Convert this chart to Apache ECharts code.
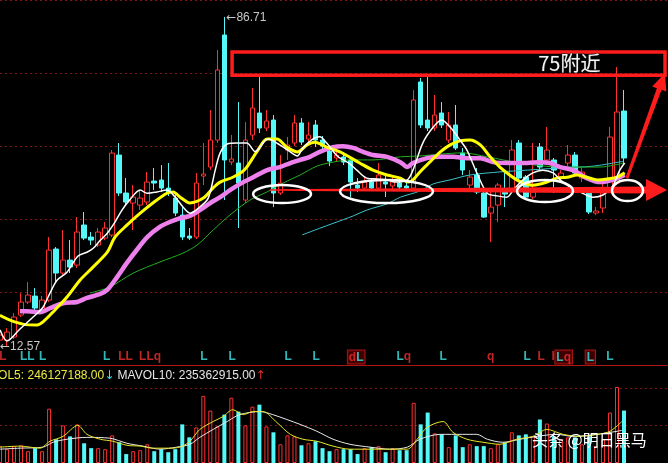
<!DOCTYPE html>
<html><head><meta charset="utf-8">
<script src="https://cdn.jsdelivr.net/npm/echarts@6/dist/echarts.min.js"></script>
<style>html,body{margin:0;padding:0;background:#000;overflow:hidden}#c{width:668px;height:463px}</style>
</head><body><div id="c"></div>
<script>
// ---------- DATA ----------
const candleOpen = [13.90,13.90,14.58,19.54,22.47,23.82,20.22,22.92,34.42,29.01, 31.94,30.81,39.83,37.12,35.32,36.89,37.57,55.60,47.04,44.78, 44.33,45.01,49.74,49.97,48.16,45.91,42.08,37.35,37.12,50.87, 52.90,58.98,82.65,54.03,53.80,45.46,60.11,65.07,61.69,63.49, 47.04,56.73,58.31,62.82,59.21,62.37,58.98,56.50,54.93,55.15, 54.48,48.84,48.16,49.52,48.16,49.52,48.62,49.29,48.62,48.16, 72.06,63.49,61.69,65.07,58.98,62.37,56.05,48.84,51.09,47.04, 42.53,44.33,47.26,47.71,58.31,50.64,46.14,57.41,54.48,54.48, 50.42,53.80,55.60,50.42,47.04,42.53,43.66,47.71,49.29,65.52];
const candleClose = [15.03,15.71,19.09,22.47,24.05,21.12,22.92,34.19,29.01,31.94, 30.36,38.25,36.89,36.44,38.25,39.15,56.05,47.04,45.01,46.14, 45.91,49.52,49.29,48.16,47.26,42.53,37.12,36.89,49.29,51.32, 58.98,74.76,54.48,54.70,49.29,58.98,66.20,61.69,63.27,47.04, 49.29,57.86,62.82,58.53,60.11,58.98,57.63,54.25,55.60,54.03, 49.52,48.16,49.52,48.16,51.09,49.07,49.52,48.39,48.16,68.00, 62.37,61.69,64.62,62.37,62.37,57.18,52.22,50.64,47.26,41.63, 43.88,48.84,46.81,56.73,50.42,46.14,47.26,52.90,56.73,52.22, 51.55,55.60,51.55,51.77,42.76,42.98,47.04,59.66,65.30,54.93];
const candleLow = [13.45,12.57,14.13,19.09,22.02,20.22,19.76,22.47,26.98,28.33, 29.01,30.13,36.44,35.32,34.87,36.44,37.12,46.36,44.33,38.70, 43.21,44.33,47.71,47.26,46.36,41.85,36.44,36.44,36.67,48.84, 52.22,58.31,45.46,53.35,39.15,44.78,58.98,60.56,61.01,43.88, 46.59,54.48,57.63,57.86,58.53,57.41,56.73,53.12,54.25,53.35, 46.14,47.26,47.71,47.49,47.71,46.14,47.94,47.71,47.71,47.71, 61.69,61.01,61.01,61.69,58.31,56.73,51.09,47.71,46.81,41.40, 35.99,40.50,43.88,47.26,49.97,45.46,45.69,52.22,53.80,47.04, 49.97,53.12,50.87,49.52,42.30,42.08,42.53,47.26,48.84,53.35];
const candleHigh = [16.16,16.61,19.99,24.50,26.98,25.63,23.82,37.12,34.87,38.70, 36.44,41.63,42.76,38.25,39.15,40.50,56.73,58.31,50.42,48.84, 47.71,51.77,52.67,53.35,53.80,46.59,43.88,39.15,51.55,58.31, 65.75,79.27,86.71,60.11,67.55,63.04,70.70,73.18,65.75,64.62, 55.60,59.66,64.62,63.94,63.04,63.49,59.89,57.18,56.73,56.28, 54.93,50.42,50.87,50.42,53.80,51.09,51.09,50.42,49.74,70.25, 72.96,73.18,69.13,67.55,65.30,66.87,57.18,52.22,52.67,47.71, 47.71,49.29,51.55,58.98,58.98,51.09,58.31,58.31,61.91,54.93, 52.22,57.86,56.28,52.67,48.16,43.88,49.97,61.91,75.44,70.25];
// volume, millions of shares
const volume = [100,82,100,105,70,88,70,322,141,223, 158,229,117,88,88,82,164,123,53,70, 76,111,70,82,64,82,229,152,211,398, 311,217,287,387,305,223,334,346,217,182, 111,164,158,105,117,129,88,70,82,82, 82,53,88,94,100,64,88,76,76,357, 229,299,176,170,94,164,94,111,100,100, 88,111,123,182,164,170,158,258,234,158, 141,152,152,111,158,100,141,299,451,311];

// moving-average curves: [bar position, price]
const ma5 = [[0,16.2],[1.0,13.7],[2.85,16.4],[5.0,19.5],[6.13,21.3],[7.13,24.5],[8.13,27.4],[9.56,29.2],[11.1,32.8],[12.4,33.7],[13.3,34.6],[14.3,36.4],[15.3,38.0],[16.4,40.5],[17.4,43.2],[18.5,45.5],[20.0,47.7],[21.0,47.0],[22.4,47.3],[23.8,47.7],[25.0,46.1],[26.1,43.9],[27.1,42.5],[28.5,43.9],[29.7,45.9],[30.7,52.2],[31.4,56.1],[32.4,58.1],[33.8,58.3],[35.2,58.3],[36.4,56.4],[38.2,59.2],[39.9,57.9],[41.4,56.3],[42.4,55.4],[43.2,57.2],[44.6,59.2],[45.6,59.7],[46.6,58.3],[48.1,55.4],[49.9,53.6],[50.9,52.2],[52.3,50.4],[53.8,50.2],[55.2,50.0],[56.6,49.5],[58.1,50.0],[58.9,52.2],[60.3,58.3],[61.8,61.9],[63.0,63.5],[64.2,61.9],[65.6,59.0],[66.6,56.7],[68.0,51.6],[69.5,47.0],[70.9,46.4],[72.3,46.1],[73.2,47.7],[74.6,50.0],[76.0,51.6],[77.4,52.2],[78.9,51.6],[79.9,50.0],[81.3,48.4],[82.7,47.3],[84.6,46.1],[86.0,46.6],[87.3,48.4],[88.4,52.2],[89.1,53.8]];
const ma10 = [[0,19.5],[1.43,18.4],[3.28,17.5],[5.28,17.3],[6.13,18.0],[7.85,20.7],[9.56,23.6],[11.4,27.4],[13.3,30.4],[15.3,33.7],[16.4,37.1],[18.1,39.8],[20.0,42.5],[21.8,44.8],[23.8,47.0],[24.7,47.3],[25.7,46.1],[27.1,44.8],[29.0,45.9],[30.4,48.2],[31.4,49.5],[33.2,50.6],[34.5,51.8],[35.2,52.9],[36.7,56.5],[38.1,59.2],[39.5,59.2],[40.9,57.4],[42.4,56.3],[43.8,57.9],[44.9,58.5],[46.6,57.4],[48.5,56.3],[51.3,53.8],[53.2,52.2],[55.2,51.1],[57.1,50.4],[58.2,49.5],[58.9,50.0],[59.9,51.8],[61.3,54.0],[62.8,56.3],[64.2,57.9],[65.6,58.8],[67.0,59.0],[68.5,57.9],[69.9,55.2],[71.3,52.9],[72.7,51.1],[73.7,50.0],[74.6,49.3],[76.0,48.8],[78.0,49.5],[79.4,50.4],[80.9,50.6],[82.3,51.1],[83.7,50.6],[85.2,50.0],[86.6,50.2],[88.0,50.6],[89.1,51.6]];
const ma20 = [[2.85,20.4],[3.85,20.4],[5.7,20.2],[7.13,21.1],[9.0,22.2],[11.0,22.5],[12.4,23.4],[14.3,24.3],[15.3,25.2],[16.7,28.1],[18.1,31.3],[19.5,34.2],[21.0,37.1],[22.8,39.4],[24.2,40.5],[25.7,41.4],[27.1,41.9],[28.5,43.2],[30.0,44.8],[31.4,46.1],[32.8,47.7],[34.7,49.5],[36.1,50.6],[38.1,52.2],[39.9,52.9],[41.4,53.8],[42.8,54.5],[44.2,55.2],[45.6,56.3],[47.5,57.4],[48.9,57.6],[50.4,57.2],[51.8,56.3],[53.2,55.6],[55.2,55.2],[57.1,54.0],[58.1,52.9],[58.9,53.8],[60.9,54.9],[62.8,55.2],[64.6,55.2],[66.6,54.9],[68.5,54.9],[70.3,54.0],[72.7,53.8],[75.2,53.8],[77.0,54.0],[78.4,53.8],[79.9,52.9],[81.7,52.2],[83.7,50.4],[85.6,49.5],[87.4,50.0],[89.1,51.1]];
const ma30 = [[12.8,24.5],[15.7,25.9],[19.0,29.0],[22.8,31.5],[26.1,33.5],[28.1,35.3],[30.4,38.7],[32.8,42.1],[35.7,45.5],[38.1,47.3],[40.4,49.3],[42.8,51.1],[45.2,53.1],[47.5,54.0],[49.9,54.5],[53.2,54.5],[57.1,55.2],[59.9,55.4],[62.8,55.8],[66.0,56.1],[69.5,55.2],[74.2,53.8],[79.9,52.9],[85.6,52.9],[88.9,53.8]];
const ma60 = [[43.1,37.6],[45.6,39.1],[47.5,40.2],[50.4,41.9],[52.3,43.2],[55.2,44.6],[57.1,46.1],[59.9,47.5],[61.8,49.1],[64.2,50.0],[67.0,51.1],[71.3,51.8],[75.2,52.2],[79.9,52.7],[84.6,53.1],[88.9,54.2]];
const mavol5 = [[0,94],[2.85,100],[5.7,88],[7.13,129],[9.0,158],[11.1,223],[12.4,170],[14.3,141],[16.1,129],[18.1,105],[20.0,100],[21.8,88],[24.7,88],[26.0,100],[27.1,129],[28.5,199],[30.4,246],[31.8,275],[33.2,316],[34.7,287],[36.1,305],[37.5,305],[39.5,240],[41.4,170],[43.2,141],[45.2,129],[47.5,100],[49.9,82],[52.8,82],[55.6,82],[58.1,82],[59.5,141],[60.9,211],[63.2,246],[64.6,182],[66.6,141],[68.9,123],[71.3,111],[73.7,141],[76.0,158],[78.0,199],[80.3,170],[82.7,158],[85.2,170],[87.0,188],[88.7,246]];
const mavol10 = [[0,82],[2.85,88],[6.13,94],[7.56,123],[9.56,141],[12.4,152],[15.7,147],[18.1,117],[20.4,100],[22.8,82],[25.2,94],[27.1,111],[28.5,152],[30.4,199],[32.4,246],[34.2,287],[37.1,305],[38.9,287],[40.9,258],[42.8,229],[45.2,188],[47.5,141],[49.9,111],[52.8,94],[55.6,82],[58.1,94],[59.9,141],[62.8,170],[66.0,170],[68.0,170],[69.5,141],[71.7,123],[74.2,141],[76.6,158],[79.4,170],[81.7,158],[85.2,170],[88.0,188],[88.7,193]];

// signal letters under the price panel
const markerX = [0.4,3.9,6.1,15.2,17.9,21.4,29.1,33.1,41.1,45.1,50.8,57.6,63.2,70.0,75.2,77.2,78.9,80.4,84.2,87.0];
const markerTxt = ['{r|L}','{c|LL}','{c|L}','{c|L}','{r|LL}','{r|LLq}','{c|L}','{c|L}','{c|L}','{c|L}','{r|d}{c|L}','{c|L}{r|q}','{c|L}','{r|q}','{c|L}','{r|L}','{r|l}','{c|L}{r|q}','{c|L}','{c|L}'];
const markerBox = [0,0,0,0,0,0,0,0,0,0,1,0,0,0,0,0,0,1,1,0];

const mavol5Text = 'MAVOL5: 246127188.00';
const mavol10Text = 'MAVOL10: 235362915.00';
const highPoint = [32, 86.71];
const lowPoint = [1, 12.57];
const targetText = '75附近';
const watermark = '头条 @明日黑马';

// annotation anchors in [bar position, price]
const boxCorners = [[33.1, 78.8], [94.85, 73.6]];
const noteAt = [81.2, 76.2];
const ellipses = [[36.1,48.84,44.36,44.78],[48.5,49.97,61.76,44.78],[73.74,49.97,81.73,45.01],[87.29,49.97,91.71,45.24]];
const hArrow = [[38.5,47.71],[95.14,47.71]];
const dArrow = [[89.43,50.42],[94.85,74.09]];

// ---------- CHART ----------
const N = candleOpen.length;
const cats = candleOpen.map((_, i) => 'K' + (i + 1));
const UP = '#ff3030', DOWN = '#54f8f8';
const chart = echarts.init(document.getElementById('c'), null, {renderer: 'canvas'});

const hid = {show: false};
const option = {
  backgroundColor: '#000',
  animation: false,
  grid: [
    {left: 0, right: 44, top: 0, height: 365},
    {left: 0, right: 0, top: 0, height: 365},
    {left: 0, right: 44, top: 350, height: 14},
    {left: 0, right: 44, top: 380, height: 84},
    {left: 0, right: 0, top: 388, height: 76}
  ],
  xAxis: [
    {type: 'category', gridIndex: 0, data: cats, boundaryGap: false, show: false},
    {type: 'value', gridIndex: 0, min: 0, max: N - 1, show: false},
    {type: 'value', gridIndex: 1, min: 0, max: 1, position: 'bottom',
      axisLine: {show: true, onZero: false, lineStyle: {color: '#b01616', width: 1}},
      axisTick: hid, axisLabel: hid, splitLine: hid},
    {type: 'value', gridIndex: 2, min: 0, max: N - 1, show: false},
    {type: 'category', gridIndex: 3, data: cats, boundaryGap: false, show: false},
    {type: 'value', gridIndex: 3, min: 0, max: N - 1, show: false},
    {type: 'value', gridIndex: 4, min: 0, max: 1, show: false}
  ],
  yAxis: [
    {type: 'value', gridIndex: 0, min: 8.29, max: 90.54, show: false},
    {type: 'value', gridIndex: 1, min: 0, max: 5, interval: 1,
      axisLine: hid, axisTick: hid, axisLabel: hid,
      splitLine: {show: true, lineStyle: {color: '#7c1616', width: 1, type: [2, 3]}}},
    {type: 'value', gridIndex: 2, min: 0, max: 1, show: false},
    {type: 'value', gridIndex: 3, min: 0, max: 492.2, show: false},
    {type: 'value', gridIndex: 4, min: 0, max: 2, interval: 1,
      axisLine: hid, axisTick: hid, axisLabel: hid,
      splitLine: {show: true, lineStyle: {color: '#7c1616', width: 1, type: [2, 3]}}}
  ],
  series: [
    {type: 'candlestick', xAxisIndex: 0, yAxisIndex: 0, barWidth: 5, z: 2,
      data: candleOpen.map((o, i) => [o, candleClose[i], candleLow[i], candleHigh[i]]),
      itemStyle: {color: '#000', color0: DOWN, borderColor: UP, borderColor0: DOWN, borderWidth: 1}},
    {type: 'line', xAxisIndex: 1, yAxisIndex: 0, data: ma60, symbol: 'none', smooth: 0.3, z: 3,
      lineStyle: {color: '#3cc4cc', width: 1}},
    {type: 'line', xAxisIndex: 1, yAxisIndex: 0, data: ma30, symbol: 'none', smooth: 0.3, z: 3,
      lineStyle: {color: '#22b022', width: 1}},
    {type: 'line', xAxisIndex: 1, yAxisIndex: 0, data: ma20, symbol: 'none', smooth: 0.3, z: 4,
      lineStyle: {color: '#ee80ee', width: 4.5}},
    {type: 'line', xAxisIndex: 1, yAxisIndex: 0, data: ma10, symbol: 'none', smooth: 0.3, z: 5,
      lineStyle: {color: '#ffff00', width: 3}},
    {type: 'line', xAxisIndex: 1, yAxisIndex: 0, data: ma5, symbol: 'none', smooth: 0.3, z: 6,
      lineStyle: {color: '#ffffff', width: 1.5}},
    {type: 'scatter', xAxisIndex: 3, yAxisIndex: 2, symbolSize: 0, silent: true, z: 5,
      data: markerX.map((x, i) => ({
        value: [x, 0.5],
        label: markerBox[i] ? {backgroundColor: '#4a0000', borderColor: '#d01818', borderWidth: 1, padding: [1, 1, 0, 1]} : {}
      })),
      label: {show: true, position: 'inside', formatter: p => markerTxt[p.dataIndex],
        rich: {
          c: {color: '#3ee6e6', fontSize: 12, fontWeight: 'bold', fontFamily: 'Liberation Sans'},
          r: {color: '#f03030', fontSize: 12, fontWeight: 'bold', fontFamily: 'Liberation Sans'}
        }}},
    {type: 'bar', xAxisIndex: 4, yAxisIndex: 3, barWidth: 4, z: 2,
      data: volume.map((v, i) => ({
        value: v,
        itemStyle: candleClose[i] >= candleOpen[i]
          ? {color: '#000', borderColor: UP, borderWidth: 1}
          : {color: DOWN}
      }))},
    {type: 'line', xAxisIndex: 5, yAxisIndex: 3, data: mavol10, symbol: 'none', smooth: 0.3, z: 4,
      lineStyle: {color: '#e8e8e8', width: 1}},
    {type: 'line', xAxisIndex: 5, yAxisIndex: 3, data: mavol5, symbol: 'none', smooth: 0.3, z: 5,
      lineStyle: {color: '#e6e62a', width: 1}}
  ]
};
chart.setOption(option);

// ---------- ANNOTATIONS (placed through the price scales) ----------
function px(p) { return chart.convertToPixel({xAxisIndex: 1, yAxisIndex: 0}, p); }
function arrowPts(S, T, w0, w1, hl, hw) {
  const dx = T[0] - S[0], dy = T[1] - S[1], L = Math.hypot(dx, dy);
  const ux = dx / L, uy = dy / L, nx = -uy, ny = ux;
  const B = [T[0] - ux * hl, T[1] - uy * hl];
  return [[S[0] + nx * w0 / 2, S[1] + ny * w0 / 2], [B[0] + nx * w1 / 2, B[1] + ny * w1 / 2],
    [B[0] + nx * hw / 2, B[1] + ny * hw / 2], T, [B[0] - nx * hw / 2, B[1] - ny * hw / 2],
    [B[0] - nx * w1 / 2, B[1] - ny * w1 / 2], [S[0] - nx * w0 / 2, S[1] - ny * w0 / 2]];
}
const g = [];
const b0 = px(boxCorners[0]), b1 = px(boxCorners[1]);
g.push({type: 'polygon', z: 100, shape: {points: arrowPts(px(hArrow[0]), px(hArrow[1]), 1.5, 7, 21, 22)}, style: {fill: '#ff1c1c'}});
g.push({type: 'polygon', z: 100, shape: {points: arrowPts(px(dArrow[0]), px(dArrow[1]), 3, 5, 17, 15)}, style: {fill: '#ff1c1c'}});
g.push({type: 'rect', z: 101, shape: {x: b0[0], y: b0[1], width: b1[0] - b0[0], height: b1[1] - b0[1]},
  style: {fill: null, stroke: '#ff1c1c', lineWidth: 3.5}});
ellipses.forEach(e => {
  const a = px([e[0], e[1]]), c = px([e[2], e[3]]);
  g.push({type: 'ellipse', z: 102, shape: {cx: (a[0] + c[0]) / 2, cy: (a[1] + c[1]) / 2, rx: (c[0] - a[0]) / 2, ry: (c[1] - a[1]) / 2},
    style: {fill: null, stroke: '#ffffff', lineWidth: 2.5}});
});
const na = px(noteAt);
g.push({type: 'text', z: 103, x: na[0], y: na[1], style: {text: targetText, fill: '#f6f6f6', stroke: '#222', lineWidth: 1,
  font: '20px "Noto Sans CJK SC", sans-serif', align: 'center', verticalAlign: 'middle'}});
const hp = px(highPoint), lp = px(lowPoint);
const labRich = {
  a: {fill: '#c8c8c8', font: '12px "DejaVu Sans", sans-serif'},
  n: {fill: '#c8c8c8', font: '12px "Liberation Sans", Arial, sans-serif'}
};
g.push({type: 'text', z: 103, x: hp[0] + 2, y: hp[1] + 1, style: {text: '{a|←}{n|' + highPoint[1].toFixed(2) + '}',
  rich: labRich, align: 'left', verticalAlign: 'middle'}});
g.push({type: 'text', z: 103, x: lp[0] - 7, y: lp[1] + 1, style: {text: '{a|←}{n|' + lowPoint[1].toFixed(2) + '}',
  rich: labRich, align: 'left', verticalAlign: 'middle'}});
g.push({type: 'text', z: 103, x: -27, y: 376, style: {
  text: '{y|' + mavol5Text + '}{c|↓} {w|' + mavol10Text + '}{r|↑}',
  verticalAlign: 'middle', align: 'left',
  rich: {
    y: {fill: '#ecec40', font: '12px "Liberation Sans", Arial, sans-serif'},
    w: {fill: '#e6e6e6', font: '12px "Liberation Sans", Arial, sans-serif'},
    c: {fill: '#3ee6e6', font: '12px "DejaVu Sans", sans-serif'},
    r: {fill: '#f03030', font: '12px "DejaVu Sans", sans-serif'}
  }}});
g.push({type: 'text', z: 104, x: 532, y: 440, style: {text: watermark, fill: '#ffffff',
  font: '16px "Noto Sans CJK SC", sans-serif', align: 'left', verticalAlign: 'middle',
  shadowColor: 'rgba(0,0,0,0.9)', shadowBlur: 3}});
chart.setOption({graphic: g});
</script>
</body></html>
